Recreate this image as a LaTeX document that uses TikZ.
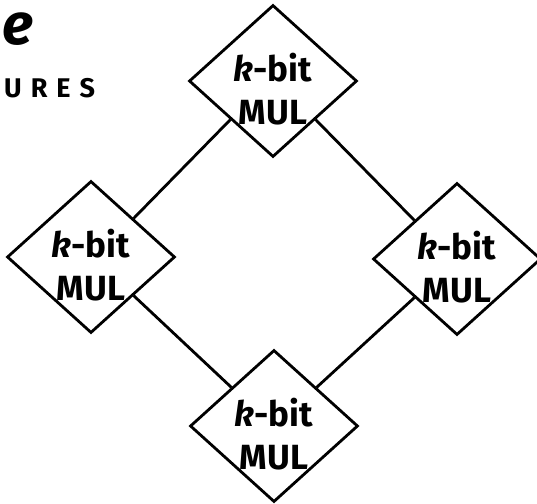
\documentclass[tikz,border=0pt]{standalone}
\usepackage{fontspec}
\setmainfont{Fira Sans}
\usetikzlibrary{shapes.geometric}
\newcommand{\gapl}{\hspace{9pt}}
\begin{document}
\begin{tikzpicture}[x=1pt,y=-1pt,
  mulbox/.style={diamond, draw=black, line width=2.8pt, minimum width=168pt,
    minimum height=152pt, inner sep=0pt},
  mullabel/.style={align=center, font=\fontsize{35}{43}\selectfont\bfseries, inner sep=0pt},
  link/.style={draw=black, line width=2.8pt},
  note/.style={anchor=base west, inner sep=0pt}]
  \useasboundingbox (0,0) rectangle (537,503);
  \clip (0,0) rectangle (537,503);
  % the four multiplier blocks
  \node[mulbox] (top)    at (273,81)  {};
  \node[mulbox] (left)   at (91,257)  {};
  \node[mulbox] (right)  at (457,259) {};
  \node[mulbox] (bottom) at (274,426) {};
  \foreach \n in {top,left,right,bottom}
    \node[mullabel] (\n-txt) at ([yshift=-8pt]\n.center) {\textit{k}-bit\\MUL};
  % links between neighbouring blocks
  \draw[link] (top.south west)  -- (left.north east);
  \draw[link] (top.south east)  -- (right.north west);
  \draw[link] (left.south east) -- (bottom.north west);
  \draw[link] (right.south west) -- (bottom.north east);
  % heading text in the upper left corner
  \node[note, font=\fontsize{58}{58}\selectfont\bfseries\itshape] (head1) at (2,45) {e};
  \node[note, font=\fontsize{27}{27}\selectfont\bfseries] (head2) at (4,97)
    {U\gapl R\gapl E\gapl S};
\end{tikzpicture}
\end{document}
